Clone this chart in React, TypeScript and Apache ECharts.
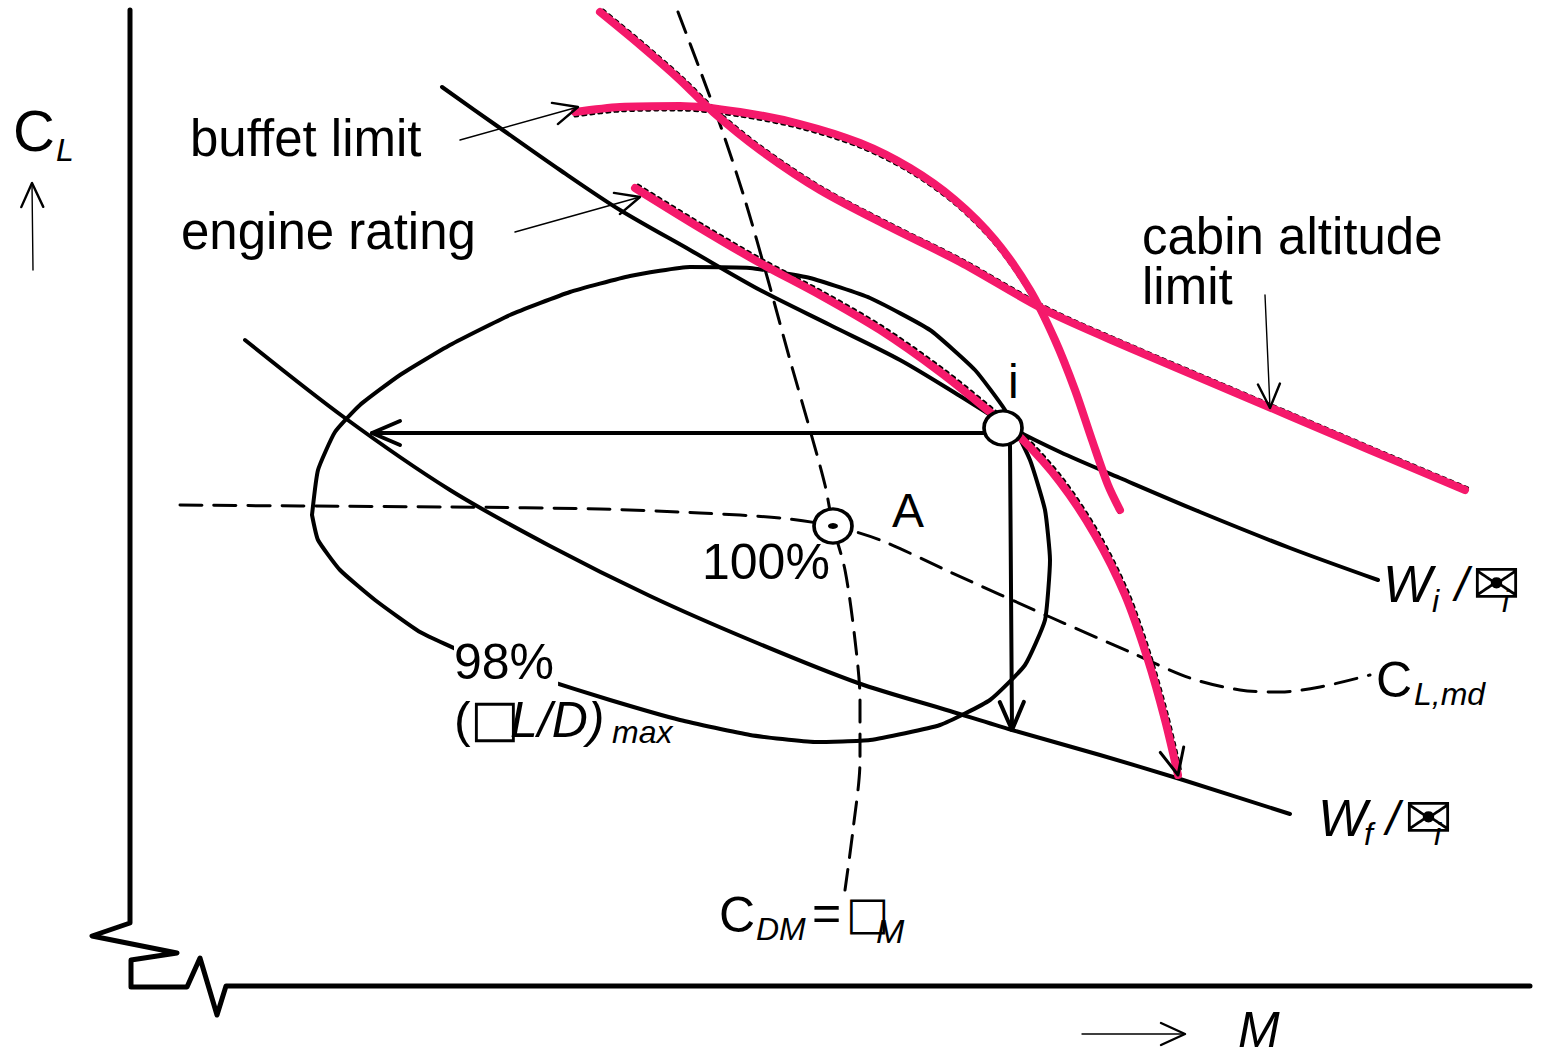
import React, { useEffect, useRef } from "react";
import * as echarts from "echarts";

type P = [number, number];

const W = 1545;
const H = 1057;

// diagram coordinates (x to the right, y downwards)
const wiCurve: P[] = [[442, 87], [500, 128], [560, 170], [620, 210], [690, 250], [760, 290], [830, 325], [900, 360], [960, 396], [1010, 427], [1060, 452], [1120, 478], [1200, 512], [1290, 548], [1378, 580]];
const wfCurve: P[] = [[245, 340], [345, 418], [450, 490], [550, 546], [650, 596], [750, 640], [858, 683], [950, 711], [1012, 730], [1100, 755], [1180, 779], [1290, 814]];
const loop98: P[] = [[312, 515], [318, 470], [335, 432], [360, 405], [400, 375], [450, 345], [510, 315], [570, 292], [630, 276], [690, 267], [750, 268], [810, 278], [870, 298], [930, 330], [975, 370], [1005, 410], [1030, 460], [1045, 510], [1050, 560], [1045, 620], [1025, 665], [990, 700], [940, 725], [870, 740], [815, 742], [750, 735], [680, 720], [610, 700], [540, 678], [470, 655], [420, 632], [375, 600], [340, 570], [318, 540], [312, 515]];
const cdmCurve: P[] = [[678, 12], [700, 70], [722, 130], [745, 200], [768, 280], [790, 360], [810, 430], [825, 485], [833, 526], [845, 570], [855, 640], [860, 700], [860, 760], [853, 830], [845, 890]];
const clmdCurve: P[] = [[180, 505], [300, 506], [450, 507], [600, 509], [700, 513], [780, 518], [833, 526], [880, 540], [950, 572], [1050, 617], [1130, 652], [1190, 678], [1240, 690], [1280, 692], [1320, 687], [1370, 675]];
const buffetCurve: P[] = [[575, 112], [620, 107], [680, 106], [740, 112], [800, 124], [860, 143], [910, 168], [955, 200], [995, 240], [1030, 290], [1055, 340], [1075, 390], [1092, 440], [1108, 485], [1120, 510]];
const cabinCurve: P[] = [[600, 12], [640, 45], [680, 80], [713, 112], [760, 150], [820, 190], [890, 227], [960, 262], [1045, 310], [1130, 348], [1210, 382], [1290, 416], [1370, 450], [1465, 490]];
const engineCurve: P[] = [[635, 188], [700, 228], [760, 263], [820, 295], [880, 330], [940, 372], [990, 412], [1020, 437], [1060, 482], [1095, 535], [1125, 595], [1148, 660], [1165, 720], [1178, 775]];

const yAxisLine: P[] = [[130, 10], [130, 923], [92, 936], [177, 953], [131, 960], [131, 987], [187, 987], [200, 958], [217, 1015], [226, 986], [1530, 986]];

// arrows: [from, to]
const thinArrows: [P, P][] = [
  [[460, 140], [578, 107]],
  [[515, 232], [640, 197]],
  [[1265, 295], [1270, 408]],
  [[33, 270], [32, 183]],
  [[1082, 1034], [1185, 1034]],
];
const thickArrows: [P, P][] = [
  [[985, 433], [372, 433]],
  [[1010, 445], [1012, 730]],
];

const markerPoints: P[] = [[1003, 428], [833, 526]];

type Lab = { t: string; x: number; y: number; s: number; i?: boolean; f?: string; bg?: boolean };
const labels: Lab[] = [
  { t: "C", x: 13, y: 130, s: 58 },
  { t: "L", x: 56, y: 150, s: 32, i: true },
  { t: "buffet limit", x: 190, y: 138, s: 51 },
  { t: "engine rating", x: 181, y: 231, s: 51 },
  { t: "cabin altitude", x: 1142, y: 236, s: 51 },
  { t: "limit", x: 1142, y: 286, s: 51 },
  { t: "i", x: 1008, y: 381, s: 48 },
  { t: "A", x: 892, y: 510, s: 48 },
  { t: "100%", x: 702, y: 562, s: 50 },
  { t: "98%", x: 454, y: 662, s: 50, bg: true },
  { t: "(", x: 454, y: 720, s: 50 },
  { t: "□", x: 470, y: 718, s: 52, f: "DejaVu Sans" },
  { t: "L/D)", x: 510, y: 720, s: 50, i: true },
  { t: "max", x: 612, y: 732, s: 32, i: true },
  { t: "W", x: 1383, y: 584, s: 52, i: true },
  { t: "i", x: 1432, y: 601, s: 32, i: true },
  { t: "/", x: 1455, y: 584, s: 48, i: true },
  { t: "✉", x: 1472, y: 584, s: 58, f: "DejaVu Sans" },
  { t: "i", x: 1502, y: 601, s: 32, i: true },
  { t: "C", x: 1376, y: 680, s: 50 },
  { t: "L,md", x: 1414, y: 694, s: 32, i: true },
  { t: "W", x: 1318, y: 818, s: 52, i: true },
  { t: "f", x: 1364, y: 834, s: 32, i: true },
  { t: "/", x: 1386, y: 818, s: 48, i: true },
  { t: "✉", x: 1404, y: 818, s: 58, f: "DejaVu Sans" },
  { t: "i", x: 1434, y: 834, s: 32, i: true },
  { t: "C", x: 719, y: 915, s: 50 },
  { t: "DM", x: 756, y: 929, s: 32, i: true },
  { t: "=", x: 812, y: 913, s: 50 },
  { t: "□", x: 846, y: 913, s: 46, f: "DejaVu Sans" },
  { t: "M", x: 876, y: 931, s: 34, i: true },
  { t: "M", x: 1238, y: 1030, s: 50, i: true },
];

const PINK = "#f5196b";
const FONT = "'Liberation Sans', Arial, sans-serif";

function head(from: P, to: P, len: number, half: number): P[] {
  const dx = to[0] - from[0];
  const dy = to[1] - from[1];
  const d = Math.hypot(dx, dy);
  const ux = dx / d;
  const uy = dy / d;
  const bx = to[0] - ux * len;
  const by = to[1] - uy * len;
  return [[bx - uy * half, by + ux * half], to, [bx + uy * half, by - ux * half]];
}

function shift(pts: P[], dx: number, dy: number): P[] {
  return pts.map((p) => [p[0] + dx, p[1] + dy] as P);
}

function line(data: P[], width: number, color: string, opts: any = {}) {
  return {
    type: "line",
    data,
    showSymbol: false,
    symbol: "none",
    silent: true,
    smooth: opts.smooth ?? 0.3,
    z: opts.z ?? 2,
    lineStyle: { width, color, type: opts.type ?? "solid", cap: "round", join: "round" },
  };
}

export default function App() {
  const ref = useRef<HTMLDivElement>(null);
  useEffect(() => {
    if (!ref.current) return;
    const chart = echarts.init(ref.current, null, { renderer: "svg" });
    const series: any[] = [];

    series.push(line(yAxisLine, 5, "#000", { smooth: false }));
    series.push(line(wiCurve, 4, "#000"));
    series.push(line(wfCurve, 4, "#000"));
    series.push(line(loop98, 4, "#000", { smooth: 0.15 }));
    series.push(line(cdmCurve, 3, "#000", { type: [22, 12] }));
    series.push(line(clmdCurve, 3, "#000", { type: [22, 12] }));

    // dotted black shadows of the limit curves
    series.push(line(shift(buffetCurve, 0, 4), 3, "#000", { type: [3, 5], z: 3 }));
    series.push(line(shift(cabinCurve, 3, -2), 3, "#000", { type: [3, 5], z: 3 }));
    series.push(line(shift(engineCurve, 3, -3), 3, "#000", { type: [3, 5], z: 3 }));
    // pink limit curves
    series.push(line(buffetCurve, 8, PINK, { z: 4 }));
    series.push(line(cabinCurve, 8, PINK, { z: 4 }));
    series.push(line(engineCurve, 8, PINK, { z: 4 }));
    const eN = engineCurve.length;
    series.push(line(head(engineCurve[eN - 2], engineCurve[eN - 1], 26, 12), 3, "#000", { smooth: false, z: 5 }));

    thinArrows.forEach(([a, b]) => {
      series.push(line([a, b], 1.4, "#000", { smooth: false, z: 5 }));
      series.push(line(head(a, b, 24, 11), 2.4, "#000", { smooth: false, z: 5 }));
    });
    thickArrows.forEach(([a, b]) => {
      series.push(line([a, b], 4, "#000", { smooth: false, z: 5 }));
      series.push(line(head(a, b, 28, 12), 4, "#000", { smooth: false, z: 5 }));
    });

    series.push({
      type: "scatter",
      data: markerPoints,
      symbol: "circle",
      symbolSize: [38, 34],
      silent: true,
      z: 8,
      itemStyle: { color: "#fff", borderColor: "#000", borderWidth: 3.5, opacity: 1 },
    });
    series.push({
      type: "scatter",
      data: [markerPoints[1]],
      symbol: "circle",
      symbolSize: [10, 6],
      silent: true,
      z: 9,
      itemStyle: { color: "#000", opacity: 1 },
    });

    series.push({
      type: "scatter",
      symbolSize: 0,
      silent: true,
      z: 10,
      itemStyle: { opacity: 1 },
      data: labels.map((l) => ({
        value: [l.x, l.y],
        label: {
          show: true,
          position: [0, 0],
          align: "left",
          verticalAlign: "middle",
          formatter: l.t,
          fontSize: l.s,
          fontStyle: l.i ? "italic" : "normal",
          fontFamily: l.f ? l.f : FONT,
          color: "#000",
          opacity: 1,
          backgroundColor: l.bg ? "#fff" : "transparent",
          padding: l.bg ? [0, 4, 0, 0] : 0,
        },
      })),
    });

    chart.setOption({
      animation: false,
      backgroundColor: "#fff",
      grid: { left: 0, right: 0, top: 0, bottom: 0 },
      xAxis: { type: "value", min: 0, max: W, show: false },
      yAxis: { type: "value", min: 0, max: H, inverse: true, show: false },
      series,
    });
    return () => chart.dispose();
  }, []);
  return <div ref={ref} style={{ position: "absolute", left: 0, top: 0, width: W, height: H }} />;
}
